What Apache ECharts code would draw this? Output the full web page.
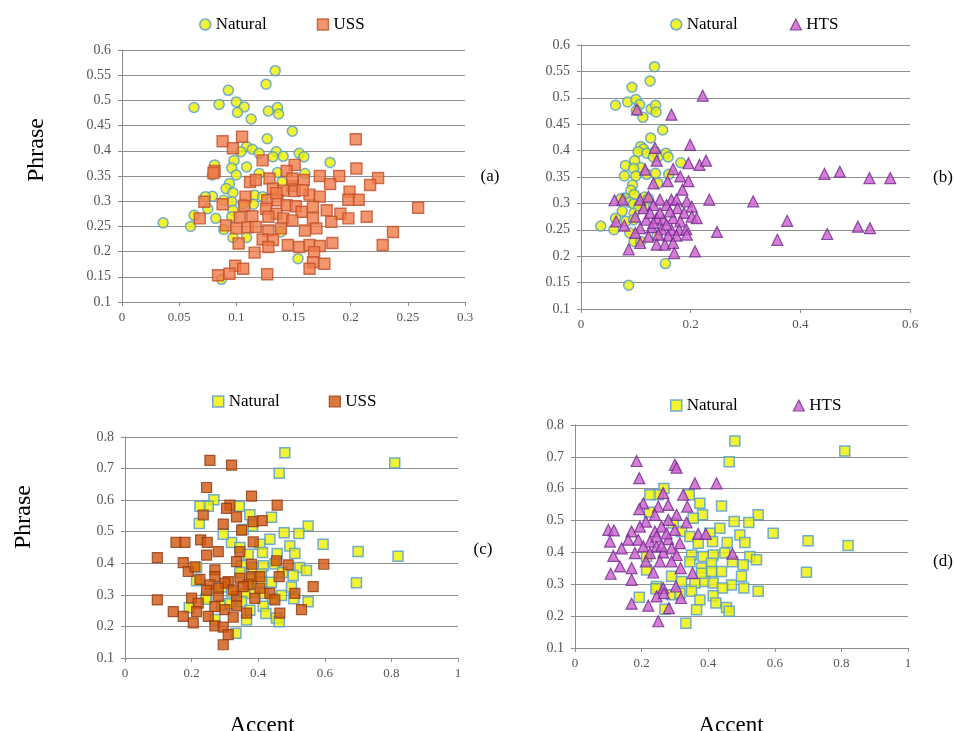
<!DOCTYPE html>
<html><head><meta charset="utf-8">
<script src="https://cdn.jsdelivr.net/npm/echarts@6/dist/echarts.min.js"></script>
<style>html,body{margin:0;padding:0;background:#fff}#c{width:956px;height:731px}</style>
</head><body><div id="c"></div>
<script>
// Natural (panels a & b share the same data): [accent, phrase]
var naturalAB = [[0.134,0.559],[0.126,0.532],[0.093,0.520],[0.063,0.486],[0.085,0.492],[0.100,0.497],[0.107,0.487],[0.101,0.476],[0.128,0.479],[0.136,0.486],[0.137,0.473],[0.113,0.463],[0.149,0.439],[0.127,0.424],[0.109,0.408],[0.114,0.403],[0.104,0.398],[0.120,0.395],[0.135,0.398],[0.141,0.389],[0.155,0.395],[0.159,0.388],[0.182,0.377],[0.098,0.381],[0.081,0.372],[0.132,0.388],[0.109,0.368],[0.096,0.366],[0.079,0.352],[0.100,0.352],[0.120,0.355],[0.136,0.357],[0.160,0.355],[0.140,0.338],[0.094,0.335],[0.091,0.325],[0.097,0.317],[0.116,0.312],[0.123,0.309],[0.079,0.310],[0.073,0.309],[0.089,0.302],[0.096,0.299],[0.115,0.294],[0.075,0.285],[0.097,0.282],[0.063,0.272],[0.082,0.266],[0.036,0.257],[0.060,0.250],[0.089,0.244],[0.139,0.239],[0.097,0.228],[0.109,0.228],[0.154,0.186],[0.087,0.145],[0.096,0.269],[0.106,0.295]];
var ussA = [[0.2045,0.423],[0.105,0.428],[0.088,0.419],[0.097,0.405],[0.123,0.381],[0.151,0.372],[0.205,0.365],[0.081,0.360],[0.144,0.360],[0.080,0.356],[0.173,0.350],[0.190,0.350],[0.224,0.346],[0.129,0.345],[0.112,0.338],[0.159,0.342],[0.182,0.334],[0.217,0.332],[0.132,0.325],[0.149,0.330],[0.141,0.321],[0.151,0.320],[0.164,0.313],[0.173,0.309],[0.199,0.319],[0.207,0.303],[0.198,0.303],[0.108,0.309],[0.127,0.302],[0.136,0.302],[0.072,0.299],[0.088,0.294],[0.107,0.291],[0.144,0.292],[0.152,0.290],[0.167,0.289],[0.259,0.287],[0.179,0.282],[0.191,0.275],[0.157,0.279],[0.126,0.285],[0.135,0.275],[0.068,0.266],[0.103,0.268],[0.114,0.270],[0.128,0.269],[0.141,0.266],[0.149,0.262],[0.167,0.266],[0.183,0.259],[0.198,0.266],[0.214,0.269],[0.091,0.252],[0.100,0.246],[0.110,0.248],[0.117,0.249],[0.139,0.246],[0.160,0.242],[0.170,0.246],[0.237,0.239],[0.128,0.242],[0.123,0.224],[0.132,0.223],[0.102,0.216],[0.145,0.213],[0.155,0.209],[0.164,0.213],[0.173,0.211],[0.184,0.217],[0.228,0.213],[0.128,0.209],[0.116,0.198],[0.168,0.199],[0.167,0.179],[0.177,0.176],[0.099,0.172],[0.106,0.166],[0.164,0.166],[0.094,0.156],[0.084,0.153],[0.127,0.155],[0.117,0.342],[0.149,0.345],[0.135,0.316],[0.158,0.322]];
var htsB = [[0.222,0.504],[0.102,0.478],[0.165,0.468],[0.199,0.411],[0.135,0.405],[0.138,0.381],[0.196,0.376],[0.216,0.373],[0.228,0.381],[0.117,0.364],[0.168,0.365],[0.181,0.351],[0.196,0.342],[0.158,0.342],[0.132,0.338],[0.185,0.326],[0.444,0.356],[0.472,0.360],[0.526,0.348],[0.564,0.348],[0.061,0.306],[0.076,0.307],[0.234,0.307],[0.314,0.304],[0.108,0.307],[0.123,0.313],[0.144,0.307],[0.165,0.307],[0.174,0.307],[0.193,0.304],[0.202,0.294],[0.114,0.291],[0.132,0.297],[0.156,0.297],[0.176,0.291],[0.188,0.282],[0.202,0.275],[0.211,0.272],[0.099,0.275],[0.119,0.269],[0.138,0.272],[0.150,0.269],[0.168,0.272],[0.181,0.266],[0.064,0.266],[0.079,0.258],[0.376,0.267],[0.108,0.253],[0.129,0.255],[0.147,0.251],[0.165,0.250],[0.179,0.250],[0.192,0.251],[0.248,0.246],[0.505,0.256],[0.527,0.253],[0.099,0.244],[0.123,0.237],[0.141,0.241],[0.159,0.239],[0.174,0.239],[0.193,0.241],[0.449,0.242],[0.358,0.231],[0.108,0.225],[0.138,0.222],[0.153,0.222],[0.168,0.225],[0.087,0.213],[0.170,0.206],[0.208,0.209],[0.126,0.282],[0.144,0.282],[0.162,0.285],[0.132,0.263],[0.156,0.260]];
// Natural (panels c & d share the same data)
var naturalCD = [[0.480,0.750],[0.810,0.718],[0.463,0.685],[0.267,0.601],[0.250,0.581],[0.343,0.581],[0.375,0.554],[0.440,0.546],[0.383,0.518],[0.355,0.507],[0.550,0.518],[0.478,0.497],[0.522,0.494],[0.435,0.476],[0.595,0.460],[0.700,0.437],[0.820,0.422],[0.320,0.466],[0.405,0.460],[0.413,0.434],[0.495,0.455],[0.510,0.431],[0.457,0.431],[0.345,0.450],[0.370,0.429],[0.450,0.398],[0.525,0.387],[0.545,0.377],[0.415,0.392],[0.385,0.387],[0.350,0.392],[0.505,0.361],[0.473,0.371],[0.410,0.366],[0.345,0.371],[0.380,0.351],[0.440,0.340],[0.410,0.340],[0.695,0.338],[0.215,0.345],[0.290,0.325],[0.320,0.309],[0.360,0.304],[0.390,0.309],[0.415,0.304],[0.470,0.298],[0.500,0.325],[0.507,0.288],[0.550,0.278],[0.443,0.288],[0.350,0.278],[0.245,0.293],[0.290,0.267],[0.415,0.264],[0.193,0.259],[0.375,0.251],[0.423,0.241],[0.365,0.220],[0.270,0.222],[0.455,0.227],[0.463,0.215],[0.333,0.178],[0.243,0.286],[0.315,0.272],[0.380,0.335],[0.295,0.492],[0.225,0.581],[0.223,0.526],[0.215,0.387]];
var ussC = [[0.255,0.726],[0.320,0.711],[0.245,0.640],[0.380,0.613],[0.457,0.584],[0.315,0.584],[0.305,0.574],[0.235,0.553],[0.335,0.547],[0.295,0.524],[0.385,0.532],[0.412,0.535],[0.350,0.505],[0.153,0.466],[0.180,0.466],[0.227,0.474],[0.247,0.466],[0.385,0.468],[0.245,0.426],[0.280,0.437],[0.345,0.437],[0.097,0.418],[0.455,0.408],[0.175,0.402],[0.190,0.374],[0.210,0.389],[0.270,0.379],[0.335,0.405],[0.380,0.397],[0.490,0.395],[0.597,0.397],[0.225,0.349],[0.270,0.358],[0.310,0.342],[0.345,0.353],[0.380,0.358],[0.405,0.358],[0.463,0.358],[0.255,0.332],[0.300,0.337],[0.370,0.332],[0.565,0.326],[0.510,0.305],[0.435,0.305],[0.245,0.314],[0.097,0.284],[0.200,0.290],[0.280,0.295],[0.335,0.295],[0.390,0.289],[0.450,0.284],[0.270,0.263],[0.220,0.274],[0.335,0.265],[0.300,0.253],[0.365,0.242],[0.465,0.242],[0.530,0.253],[0.145,0.247],[0.215,0.247],[0.250,0.232],[0.325,0.229],[0.205,0.211],[0.270,0.202],[0.295,0.198],[0.310,0.174],[0.295,0.142],[0.175,0.232],[0.280,0.321],[0.325,0.316],[0.355,0.326],[0.405,0.321]];
var htsD = [[0.185,0.687],[0.300,0.675],[0.305,0.666],[0.193,0.633],[0.360,0.617],[0.425,0.617],[0.265,0.586],[0.325,0.581],[0.205,0.554],[0.280,0.549],[0.337,0.544],[0.250,0.544],[0.193,0.536],[0.240,0.518],[0.305,0.518],[0.213,0.497],[0.280,0.502],[0.335,0.494],[0.100,0.471],[0.117,0.469],[0.170,0.466],[0.240,0.466],[0.260,0.481],[0.300,0.471],[0.370,0.458],[0.393,0.458],[0.105,0.434],[0.190,0.440],[0.225,0.434],[0.280,0.442],[0.315,0.429],[0.140,0.413],[0.205,0.419],[0.245,0.419],[0.290,0.413],[0.115,0.389],[0.180,0.398],[0.225,0.398],[0.265,0.400],[0.305,0.392],[0.473,0.396],[0.135,0.356],[0.170,0.351],[0.213,0.372],[0.255,0.372],[0.290,0.372],[0.317,0.351],[0.107,0.333],[0.235,0.337],[0.353,0.335],[0.170,0.314],[0.303,0.293],[0.265,0.288],[0.245,0.262],[0.267,0.272],[0.318,0.257],[0.170,0.239],[0.220,0.233],[0.282,0.225],[0.250,0.184],[0.195,0.481],[0.245,0.450],[0.275,0.460],[0.160,0.440],[0.260,0.421]];

var NAT = {color:'#eef000', borderColor:'#4f9ad6', borderWidth:1.5};
var USS1 = {color:'#f07a48', borderColor:'#c0502a', borderWidth:1.4};
var USS2 = {color:'#d2560f', borderColor:'#8c3a10', borderWidth:1.2};
var HTS = {color:'#cc5ccc', borderColor:'#6e2a8e', borderWidth:1.2};

var serif = '"Liberation Serif"';
function xAx(i,max,step){return {gridIndex:i,type:'value',min:0,max:max,interval:step,
  axisLine:{lineStyle:{color:'#8c8c8c'}},axisTick:{show:true,length:4,lineStyle:{color:'#8c8c8c'}},
  splitLine:{show:false},axisLabel:{margin:9,color:'#555',fontSize:13,fontFamily:'Liberation Serif'}};}
function yAx(i,min,max,step){return {gridIndex:i,type:'value',min:min,max:max,interval:step,
  axisLine:{show:true,lineStyle:{color:'#8c8c8c'}},axisTick:{show:true,length:4,lineStyle:{color:'#8c8c8c'}},
  splitLine:{show:true,lineStyle:{color:'#8f8f8f',width:1}},axisLabel:{margin:11,color:'#555',fontSize:14,fontFamily:'Liberation Serif'}};}
function sc(name,i,data,sym,size,style){return {name:name,type:'scatter',xAxisIndex:i,yAxisIndex:i,
  data:data,symbol:sym,symbolSize:size,itemStyle:style,silent:true,animation:false};}
var legendText = {fontFamily:'Liberation Serif',fontSize:17,color:'#000'};
function leg(left,top,items,gap){return {left:left,top:top,padding:0,itemGap:gap,itemWidth:11,itemHeight:11,
  textStyle:legendText,data:items,formatter:function(n){return n.split('_')[0];},selectedMode:false};}

var option = {
  backgroundColor:'#fff',
  animation:false,
  grid:[
    {left:122,top:50,width:343,height:252},
    {left:581,top:45,width:329,height:264},
    {left:125,top:437,width:333,height:221},
    {left:575,top:425,width:333,height:223}
  ],
  xAxis:[xAx(0,0.3,0.05),xAx(1,0.6,0.2),xAx(2,1,0.2),xAx(3,1,0.2)],
  yAxis:[yAx(0,0.1,0.6,0.05),yAx(1,0.1,0.6,0.05),yAx(2,0.1,0.8,0.1),yAx(3,0.1,0.8,0.1)],
  legend:[
    leg(199,16,[{name:'Natural_a',icon:'circle',itemStyle:NAT},{name:'USS_a',icon:'rect',itemStyle:USS1}],50),
    leg(670,16,[{name:'Natural_b',icon:'circle',itemStyle:NAT},{name:'HTS_b',icon:'triangle',itemStyle:HTS}],52),
    leg(212,393,[{name:'Natural_c',icon:'rect',itemStyle:NAT},{name:'USS_c',icon:'rect',itemStyle:USS2}],49),
    leg(670,397,[{name:'Natural_d',icon:'rect',itemStyle:NAT},{name:'HTS_d',icon:'triangle',itemStyle:HTS}],55)
  ],
  series:[
    sc('Natural_a',0,naturalAB,'circle',10,NAT),
    sc('USS_a',0,ussA,'rect',11,USS1),
    sc('Natural_b',1,naturalAB,'circle',10,NAT),
    sc('HTS_b',1,htsB,'triangle',11,HTS),
    sc('Natural_c',2,naturalCD,'rect',10,NAT),
    sc('USS_c',2,ussC,'rect',10,USS2),
    sc('Natural_d',3,naturalCD,'rect',10,NAT),
    sc('HTS_d',3,htsD,'triangle',11,HTS)
  ],
  graphic:[
    {type:'text',x:37,y:150,rotation:Math.PI/2,style:{text:'Phrase',font:'24px '+serif,fill:'#000',align:'center',verticalAlign:'middle'}},
    {type:'text',x:24,y:517,rotation:Math.PI/2,style:{text:'Phrase',font:'24px '+serif,fill:'#000',align:'center',verticalAlign:'middle'}},
    {type:'text',x:490,y:177,style:{text:'(a)',font:'17px '+serif,fill:'#000',align:'center',verticalAlign:'middle'}},
    {type:'text',x:943,y:178,style:{text:'(b)',font:'17px '+serif,fill:'#000',align:'center',verticalAlign:'middle'}},
    {type:'text',x:483,y:550,style:{text:'(c)',font:'17px '+serif,fill:'#000',align:'center',verticalAlign:'middle'}},
    {type:'text',x:943,y:562,style:{text:'(d)',font:'17px '+serif,fill:'#000',align:'center',verticalAlign:'middle'}},
    {type:'text',x:262,y:714,style:{text:'Accent',font:'23px '+serif,fill:'#000',align:'center',verticalAlign:'top'}},
    {type:'text',x:731,y:714,style:{text:'Accent',font:'23px '+serif,fill:'#000',align:'center',verticalAlign:'top'}}
  ]
};
var chart = echarts.init(document.getElementById('c'),null,{renderer:'canvas'});
chart.setOption(option);
</script></body></html>
